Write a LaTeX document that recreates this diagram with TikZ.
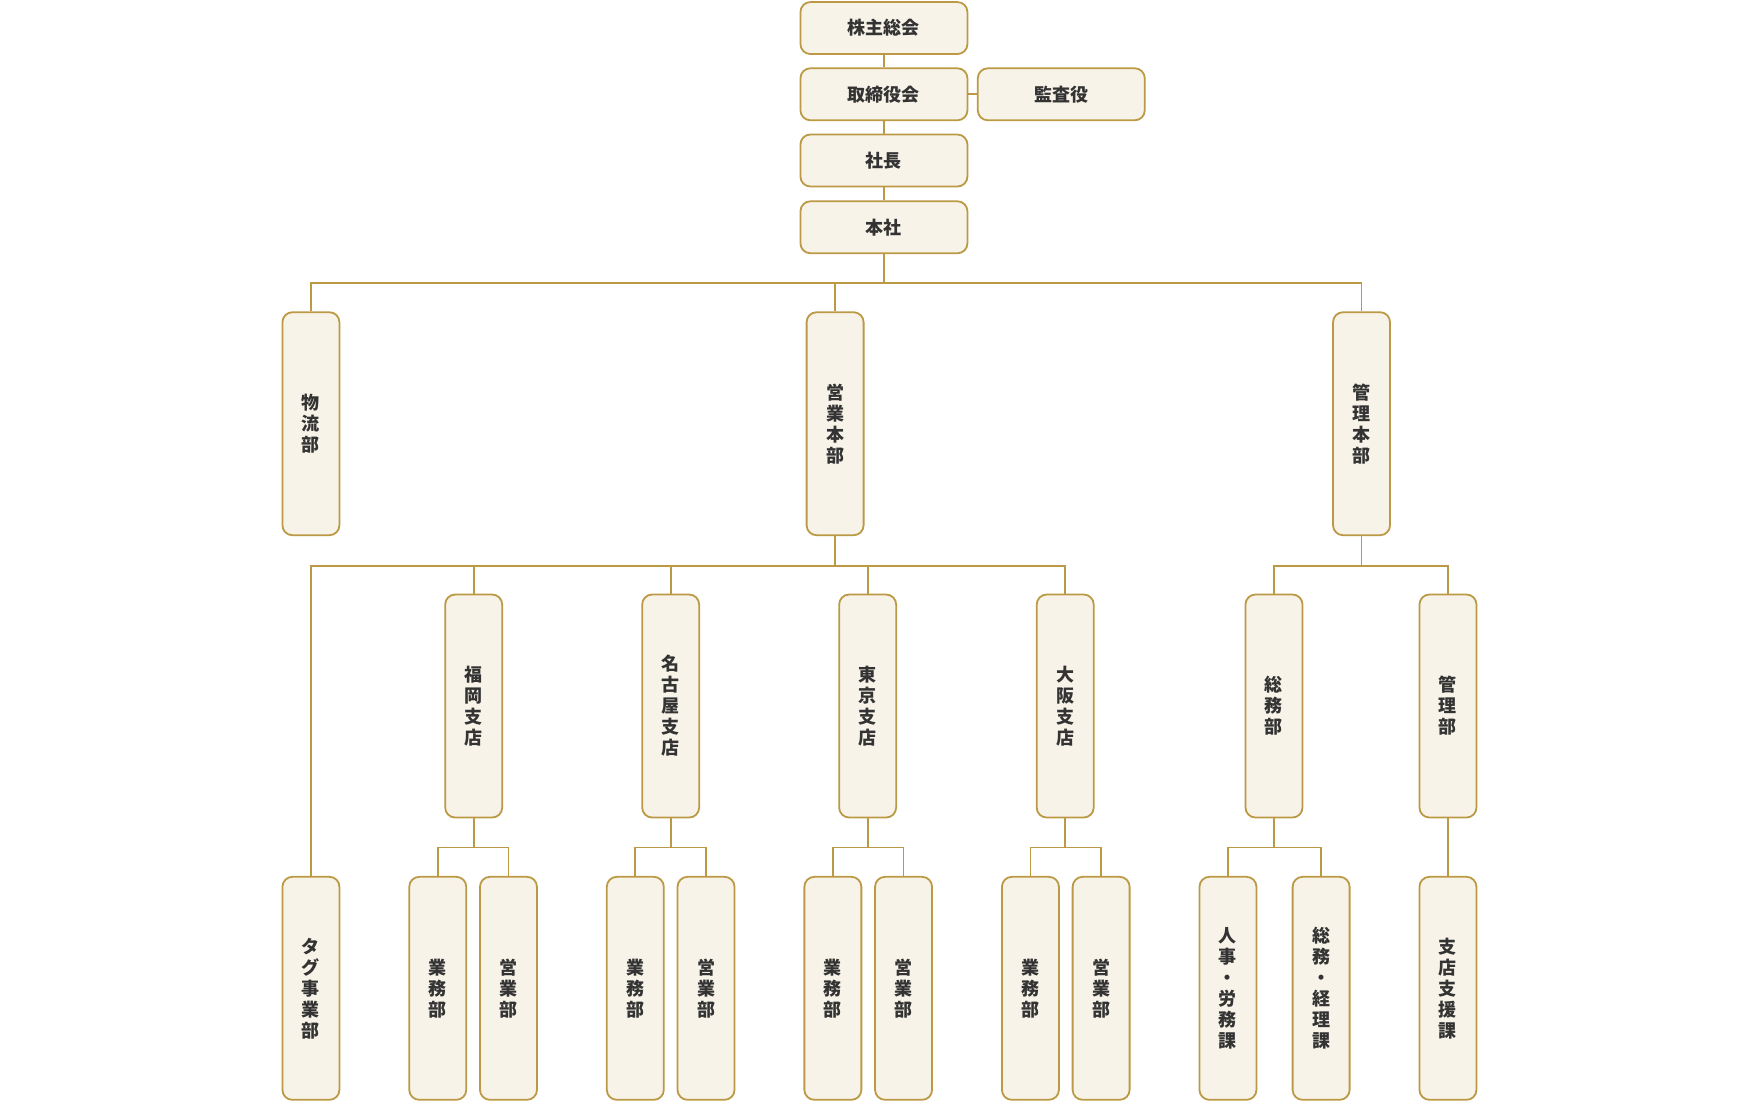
\documentclass[tikz,border=0pt]{standalone}
\usepackage{fontspec}
\setmainfont{Noto Sans CJK JP}
\definecolor{gold}{HTML}{BC9A45}
\definecolor{cream}{HTML}{F8F3E8}
\definecolor{ink}{HTML}{333333}
\begin{document}
\begin{tikzpicture}[x=1.1224pt,y=-1.1224pt,
  box/.style={draw=gold,line width=1.8pt,fill=cream,rounded corners=10pt,text=ink,font=\fontsize{18}{21}\selectfont\bfseries,inner sep=0pt},
  hbox/.style={box,minimum width=167pt,minimum height=52pt},
  vbox/.style={box,minimum width=57pt,minimum height=223pt,align=center},
  ln/.style={draw=gold,line width=1.8pt}]
\useasboundingbox (0,0) rectangle (1568,983.6);
\node[hbox] (kabu) at (787.5,25) {株主総会};
\node[hbox] (tori) at (787.5,84) {取締役会};
\node[hbox] (kansa) at (945.5,84) {監査役};
\node[hbox] (shacho) at (787.5,143) {社長};
\node[hbox] (honsha) at (787.5,202.5) {本社};
\coordinate (bus1) at (787.5,252);
\coordinate (bus2) at (744,504);
\node[vbox] (butsu) at (277,377.5) {物\\流\\部};
\node[vbox] (eigyo) at (744,377.5) {営\\業\\本\\部};
\node[vbox] (kanri) at (1213,377.5) {管\\理\\本\\部};
\node[vbox] (fuku) at (422,629) {福\\岡\\支\\店};
\node[vbox] (nago) at (597.5,629) {名\\古\\屋\\支\\店};
\node[vbox] (tokyo) at (773,629) {東\\京\\支\\店};
\node[vbox] (osaka) at (949,629) {大\\阪\\支\\店};
\node[vbox] (somu) at (1135,629) {総\\務\\部};
\node[vbox] (kanrib) at (1290,629) {管\\理\\部};
\node[vbox] (tag) at (277,880.5) {タ\\グ\\事\\業\\部};
\node[vbox] (f1) at (390,880.5) {業\\務\\部};
\node[vbox] (f2) at (453,880.5) {営\\業\\部};
\node[vbox] (n1) at (566,880.5) {業\\務\\部};
\node[vbox] (n2) at (629,880.5) {営\\業\\部};
\node[vbox] (t1) at (742,880.5) {業\\務\\部};
\node[vbox] (t2) at (805,880.5) {営\\業\\部};
\node[vbox] (o1) at (918,880.5) {業\\務\\部};
\node[vbox] (o2) at (981,880.5) {営\\業\\部};
\node[vbox] (jinji) at (1094,880.5) {人\\事\\・\\労\\務\\課};
\node[vbox] (keiri) at (1177,880.5) {総\\務\\・\\経\\理\\課};
\node[vbox] (shien) at (1290,880.5) {支\\店\\支\\援\\課};
\begin{scope}[on background layer/.style={}]
\draw[ln] (kabu) -- (tori);
\draw[ln] (tori) -- (kansa);
\draw[ln] (tori) -- (shacho);
\draw[ln] (shacho) -- (honsha);
\draw[ln] (honsha.south) -- (bus1);
\draw[ln] (butsu.north) |- (bus1) -| (kanri.north);
\draw[ln] (eigyo.north) -- (eigyo.north |- bus1);
\draw[ln] (eigyo.south) -- (bus2);
\draw[ln] (tag.north) |- (bus2) -| (osaka.north);
\draw[ln] (fuku.north) -- (fuku.north |- bus2);
\draw[ln] (nago.north) -- (nago.north |- bus2);
\draw[ln] (tokyo.north) -- (tokyo.north |- bus2);
\draw[ln] (kanri.south) -- (kanri.south |- bus2);
\draw[ln] (somu.north) |- (kanri.south |- bus2) -| (kanrib.north);
\foreach \p/\a/\b in {fuku/f1/f2,nago/n1/n2,tokyo/t1/t2,osaka/o1/o2,somu/jinji/keiri}{
  \draw[ln] (\p.south) -- (\p.south |- 0,755);
  \draw[ln] (\a.north) |- (\p.south |- 0,755) -| (\b.north);
}
\draw[ln] (kanrib) -- (shien);
\end{scope}
\end{tikzpicture}
\end{document}
